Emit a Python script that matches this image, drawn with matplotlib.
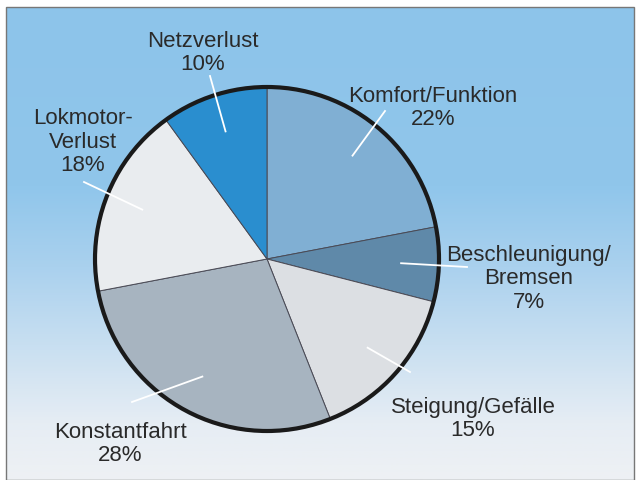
import numpy as np
import matplotlib.pyplot as plt
from matplotlib.colors import LinearSegmentedColormap
from matplotlib.patches import Rectangle

plt.rcParams['font.family'] = ['Liberation Sans', 'DejaVu Sans']

# data (clockwise from 12 o'clock)
labels = ['Komfort/Funktion', 'Beschleunigung/\nBremsen', 'Steigung/Gefälle',
          'Konstantfahrt', 'Lokmotor-\nVerlust', 'Netzverlust']
shares = [22, 7, 15, 28, 18, 10]
colors = ['#80afd3', '#5f89a9', '#dcdfe3', '#a7b4c0', '#e9ecef', '#2a8ecf']

# layout, in pixels of the 639x481 picture
W, H = 639, 481
cx, cy, R = 267, 260, 172
label_px = [(433, 108), (529, 279), (473, 419), (120, 444), (83, 142), (203, 53)]
leader_px = [(385, 112), (467, 268), (410, 373), (132, 403), (84, 183), (210, 77)]


def px2d(x, y):
    return (x - cx) / R, (cy - y) / R


fig = plt.figure(figsize=(W / 100, H / 100), dpi=100)
ax = fig.add_axes([0, 0, 1, 1])
x0, y0 = px2d(0, H)
x1, y1 = px2d(W, 0)
ax.set_xlim(x0, x1)
ax.set_ylim(y0, y1)
ax.set_aspect('equal')
ax.axis('off')

# background panel with vertical gradient
fl, ft = px2d(6, 8)
fr, fb = px2d(634, H)
bg = LinearSegmentedColormap.from_list(
    'bg', [(0, '#eef1f4'), (0.12, '#e6edf4'), (0.45, '#aad1ee'), (0.62, '#90c6eb'), (1, '#8dc4ea')])
grad = np.linspace(0, 1, 256).reshape(-1, 1)
ax.imshow(grad, cmap=bg, extent=[fl, fr, fb, ft], origin='lower', aspect='auto', zorder=0)
ax.add_patch(Rectangle((fl, fb), fr - fl, ft - fb, fill=False, ec='#777777', lw=1.0, zorder=1))

wedges, _ = ax.pie(shares, colors=colors, startangle=90, counterclock=False, radius=1,
                   wedgeprops=dict(edgecolor='#4a4a55', linewidth=0.7))
for w in wedges:
    w.set_zorder(2)
ax.add_patch(plt.Circle((0, 0), 1, fill=False, ec='#1a1a1a', lw=3, zorder=3))
ax.set_xlim(x0, x1)
ax.set_ylim(y0, y1)

# leader lines and labels
start = 90.0
for lab, val, lp, ep in zip(labels, shares, label_px, leader_px):
    ang = np.deg2rad(start - val * 3.6 / 2)
    start -= val * 3.6
    ix, iy = 0.78 * np.cos(ang), 0.78 * np.sin(ang)
    ox, oy = px2d(*ep)
    ax.plot([ix, ox], [iy, oy], color='white', lw=1.3, zorder=4)
    tx, ty = px2d(*lp)
    ax.text(tx, ty, f'{lab}\n{val}%', ha='center', va='center', fontsize=16,
            color='#2a2a2a', linespacing=1.15, zorder=5)

fig.savefig('out.png', dpi=100)
